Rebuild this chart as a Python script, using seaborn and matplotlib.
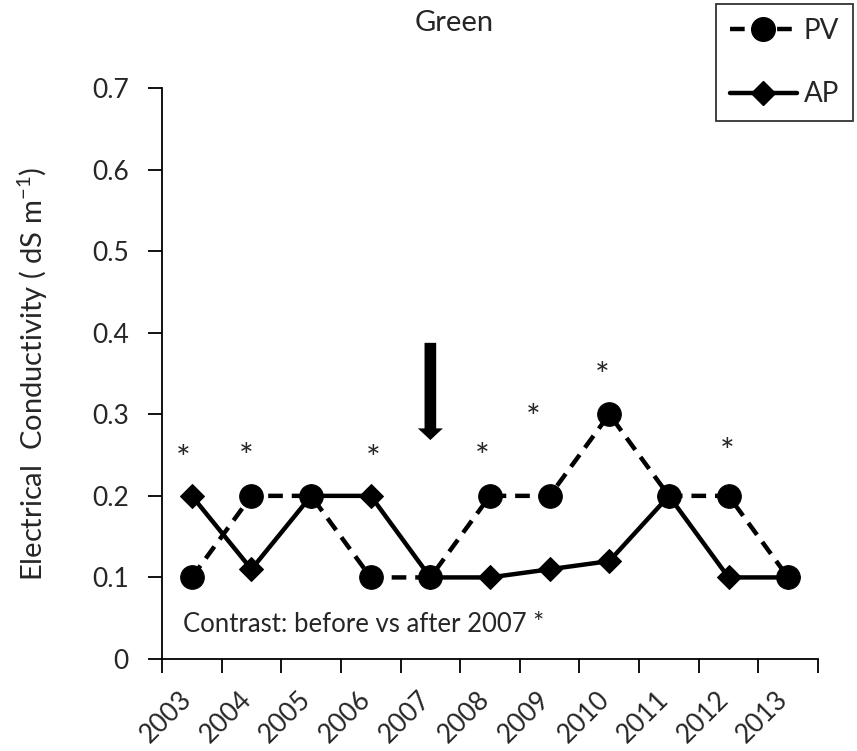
import matplotlib
matplotlib.use("Agg")
import matplotlib.pyplot as plt
import matplotlib.transforms as mtransforms
import seaborn as sns
import numpy as np
import pandas as pd
from matplotlib.ticker import FuncFormatter, FixedLocator
from matplotlib.lines import Line2D

years = ["2003", "2004", "2005", "2006", "2007", "2008", "2009", "2010", "2011", "2012", "2013"]
pv = [0.1, 0.2, 0.2, 0.1, 0.1, 0.2, 0.2, 0.3, 0.2, 0.2, 0.1]
ap = [0.2, 0.11, 0.2, 0.2, 0.1, 0.1, 0.11, 0.12, 0.2, 0.1, 0.1]

# significance stars: year, horizontal nudge (in category units), height
star_years = ["2003", "2004", "2006", "2008", "2009", "2010", "2012"]
star_dx = [-0.15, -0.08, 0.05, -0.13, -0.28, -0.12, -0.03]
star_y = [0.244, 0.246, 0.244, 0.246, 0.294, 0.346, 0.252]

sns.set_theme(style="white")
plt.rcParams["font.family"] = ["Lato", "DejaVu Sans"]
plt.rcParams["mathtext.default"] = "regular"

W, H = 857, 751
fig = plt.figure(figsize=(W / 100, H / 100), dpi=100)
ax = fig.add_axes([162 / W, 1 - 659 / H, (818 - 162) / W, (659 - 88) / H])

centers = np.arange(len(years)) + 0.5
df = pd.DataFrame({"x": np.concatenate([centers, centers]),
                   "y": ap + pv,
                   "series": ["AP"] * len(years) + ["PV"] * len(years)})

LW = 3.2
PV_DASH = (0, (3.3, 2.0))

sns.lineplot(data=df[df.series == "AP"], x="x", y="y", ax=ax, color="black",
             lw=LW, marker="D", markersize=12, markeredgecolor="black",
             legend=False, zorder=3)
sns.lineplot(data=df[df.series == "PV"], x="x", y="y", ax=ax, color="black",
             lw=LW, marker="o", markersize=17, markeredgecolor="black",
             legend=False, zorder=4)
ax.lines[-1].set_linestyle(PV_DASH)

ax.set_xlim(0, len(years))
ax.set_ylim(0, 0.7)

# category boundaries carry the ticks, centres carry the labels
ax.xaxis.set_major_locator(FixedLocator(np.arange(len(years) + 1)))
ax.xaxis.set_minor_locator(FixedLocator(centers))
ax.set_xticklabels([], minor=False)
ax.set_xticklabels(years, minor=True)
ax.tick_params(axis="x", which="major", direction="out", length=10, width=1.3,
               color="black", bottom=True)
ax.tick_params(axis="x", which="minor", length=0, pad=26, labelsize=19)
shift = mtransforms.ScaledTranslation(-4 / 100, 0, fig.dpi_scale_trans)
for lbl in ax.get_xticklabels(minor=True):
    lbl.set_rotation(45)
    lbl.set_rotation_mode("anchor")
    lbl.set_ha("right")
    lbl.set_va("center")
    lbl.set_transform(lbl.get_transform() + shift)

ax.set_yticks(np.arange(0, 0.71, 0.1))
ax.yaxis.set_major_formatter(FuncFormatter(lambda v, p: "0" if abs(v) < 1e-9 else f"{v:.1f}"))
ax.tick_params(axis="y", direction="out", length=10, width=1.3, color="black",
               left=True, labelsize=19, pad=14)

for s in ["top", "right"]:
    ax.spines[s].set_visible(False)
for s in ["left", "bottom"]:
    ax.spines[s].set_color("black")
    ax.spines[s].set_linewidth(1.3)

ax.set_xlabel("")
ax.set_ylabel("Electrical  Conductivity ( dS m$^{-1}$)", fontsize=21)
ax.yaxis.set_label_coords((50 - 162) / (818 - 162), 0.5)

fig.text(454 / W, 1 - 23 / H, "Green", fontsize=21, ha="center", va="center")

for yr, dx, yy in zip(star_years, star_dx, star_y):
    ax.text(years.index(yr) + 0.5 + dx, yy, "*", ha="center", va="center", fontsize=25)

ax.annotate("", xy=(years.index("2007") + 0.5, 0.265), xytext=(years.index("2007") + 0.5, 0.391),
            arrowprops=dict(arrowstyle="simple,head_width=1.5,head_length=0.7,tail_width=0.7",
                            color="black", lw=0, mutation_scale=12))

ax.text(0.35, 0.042, "Contrast: before vs after 2007 *", fontsize=18.5, va="center", ha="left")

handles = [
    Line2D([], [], color="black", lw=LW, ls=PV_DASH, marker="o", markersize=17),
    Line2D([], [], color="black", lw=LW, marker="D", markersize=12),
]
leg = fig.legend(handles, ["PV", "AP"],
                 loc="upper right", bbox_to_anchor=(853 / W, 1 - 4 / H),
                 fontsize=20, frameon=True, fancybox=False, handlelength=2.4,
                 handletextpad=0.25, borderpad=0.5, labelspacing=1.35, borderaxespad=0)
leg.get_frame().set_edgecolor("black")
leg.get_frame().set_linewidth(1.3)

fig.savefig("out.png", dpi=100)
